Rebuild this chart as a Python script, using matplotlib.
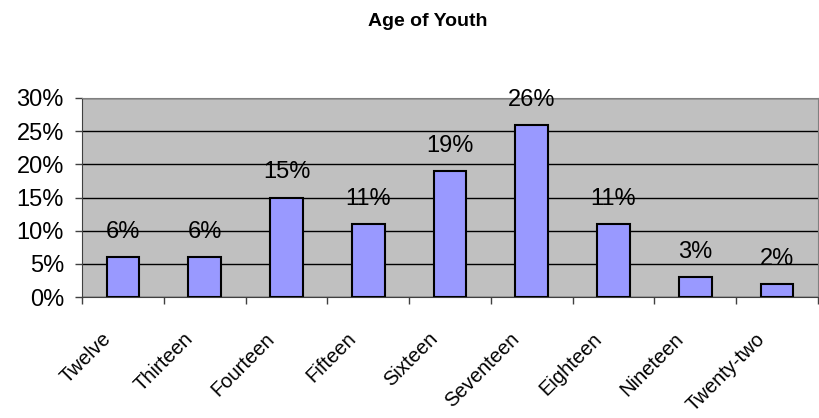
import numpy as np
import matplotlib.pyplot as plt
import matplotlib.transforms as mtransforms

# --- Data ---
ages = ["Twelve", "Thirteen", "Fourteen", "Fifteen", "Sixteen",
        "Seventeen", "Eighteen", "Nineteen", "Twenty-two"]
shares = [6, 6, 15, 11, 19, 26, 11, 3, 2]  # percent
y_ticks = [0, 5, 10, 15, 20, 25, 30]

plt.rcParams['font.family'] = ['Liberation Sans', 'DejaVu Sans']

fig = plt.figure(figsize=(8.19, 4.18), dpi=100)
W, H = 819, 418
ax = fig.add_axes([82 / W, 1 - 297 / H, (818 - 82) / W, (297 - 98) / H])
ax.set_facecolor('#C0C0C0')

x = np.arange(len(ages))
bars = ax.bar(x, shares, width=0.4, color='#9999FF', edgecolor='black',
              linewidth=1.5, zorder=3)

# value labels above each bar
for xi, v in zip(x, shares):
    ax.annotate(f"{v}%", xy=(xi, v), xytext=(0, 18), textcoords='offset points',
                ha='center', va='center', fontsize=17, zorder=4)

ax.set_xlim(-0.5, len(ages) - 0.5)
ax.set_ylim(0, 30)
ax.set_yticks(y_ticks)
ax.set_yticklabels([f"{t}%" for t in y_ticks], fontsize=17)
ax.yaxis.grid(True, color='black', linewidth=1, zorder=1)
ax.set_axisbelow(True)

# category labels at centres, tick marks at boundaries
ax.set_xticks(x)
ax.set_xticklabels(ages, fontsize=14.5, rotation=45, ha='right',
                   rotation_mode='anchor', va='center')
ax.set_xticks(np.arange(len(ages) + 1) - 0.5, minor=True)
ax.tick_params(axis='x', which='major', length=0, pad=28)
ax.tick_params(axis='x', which='minor', length=5, width=1, color='#404040')
ax.tick_params(axis='y', length=5, width=1, color='#404040', pad=8)
offset = mtransforms.ScaledTranslation(-15 / 100, 0, fig.dpi_scale_trans)
for lbl in ax.get_xticklabels():
    lbl.set_transform(lbl.get_transform() + offset)

for side in ['top', 'right']:
    ax.spines[side].set_color('#808080')
for side in ['left', 'bottom']:
    ax.spines[side].set_color('#404040')

fig.text(428 / W, 1 - 22 / H, "Age of Youth", ha='center', va='center',
         fontsize=14, fontweight='bold')

fig.savefig("out.png", dpi=100)
